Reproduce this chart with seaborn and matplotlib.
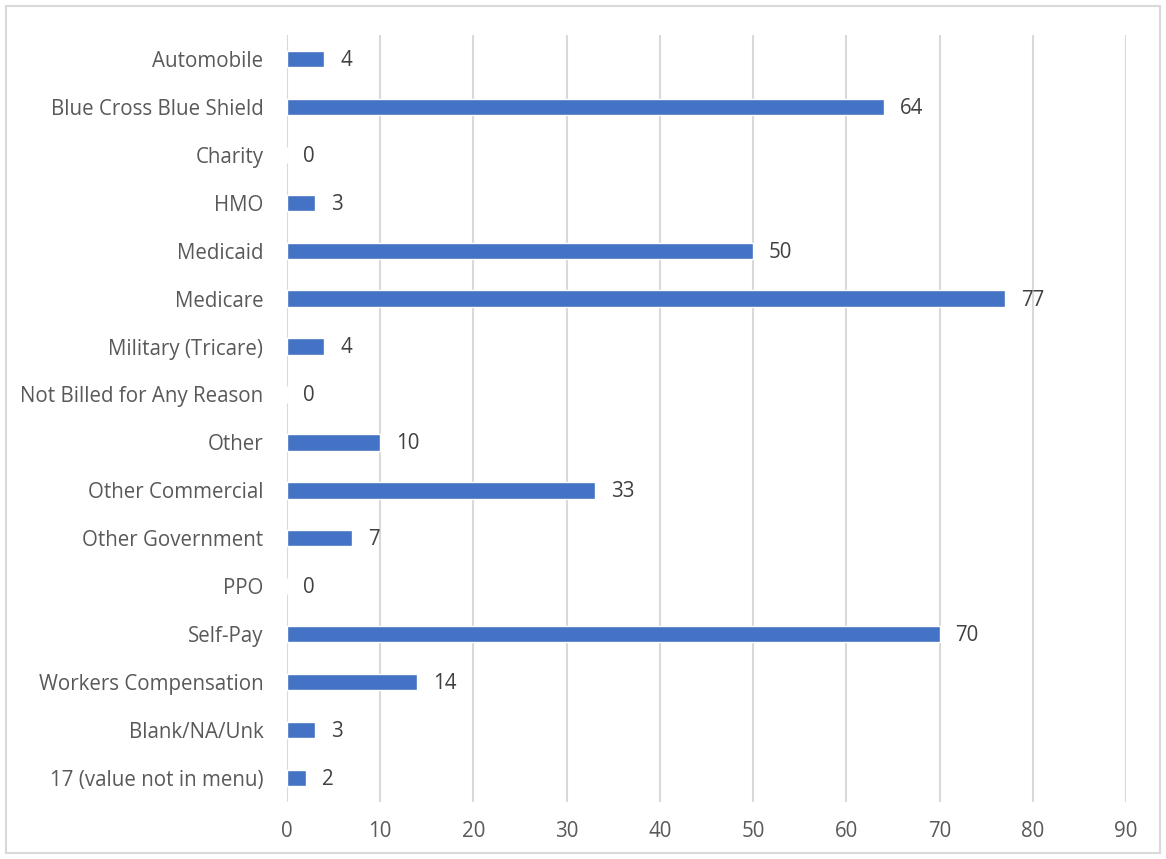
import matplotlib
matplotlib.use("Agg")
import matplotlib.pyplot as plt
import seaborn as sns
import pandas as pd
from matplotlib.patches import Rectangle

categories = ["Automobile", "Blue Cross Blue Shield", "Charity", "HMO", "Medicaid",
              "Medicare", "Military (Tricare)", "Not Billed for Any Reason", "Other",
              "Other Commercial", "Other Government", "PPO", "Self-Pay",
              "Workers Compensation", "Blank/NA/Unk", "17 (value not in menu)"]
values = [4, 64, 0, 3, 50, 77, 4, 0, 10, 33, 7, 0, 70, 14, 3, 2]
xticks = [0, 10, 20, 30, 40, 50, 60, 70, 80, 90]

sns.set_theme(style="white")
plt.rcParams['font.family'] = ['Open Sans', 'DejaVu Sans']

df = pd.DataFrame({"cat": categories, "val": values})

fig = plt.figure(figsize=(11.66, 8.59), dpi=100)
ax = fig.add_axes([0.2461, 0.0664, 0.9657 - 0.2461, 0.9593 - 0.0664])

sns.barplot(data=df, x="val", y="cat", orient="h", color="#4472C4",
            width=0.34, saturation=1, ax=ax)

text_color = "#595959"
fs = 14.8
ax.set_xlim(0, 90)
ax.set_xticks(xticks)
ax.xaxis.grid(True, color="#D9D9D9", linewidth=1.5)
ax.yaxis.grid(False)
ax.set_axisbelow(True)
for s in ax.spines.values():
    s.set_visible(False)
ax.set_xlabel("")
ax.set_ylabel("")
ax.tick_params(axis="x", length=0, pad=14, labelsize=fs, labelcolor=text_color)
ax.tick_params(axis="y", length=0, pad=17, labelsize=fs, labelcolor=text_color)

for i, v in enumerate(values):
    ax.annotate(str(v), xy=(v, i), xytext=(11.5, -1), textcoords="offset points",
                va="center", ha="left", fontsize=fs, color="#404040")

fig.patches.append(Rectangle((0.005, 0.007), 0.99, 0.986, transform=fig.transFigure,
                             fill=False, edgecolor="#D9D9D9", linewidth=1.5))

fig.savefig("out.png", dpi=100)
